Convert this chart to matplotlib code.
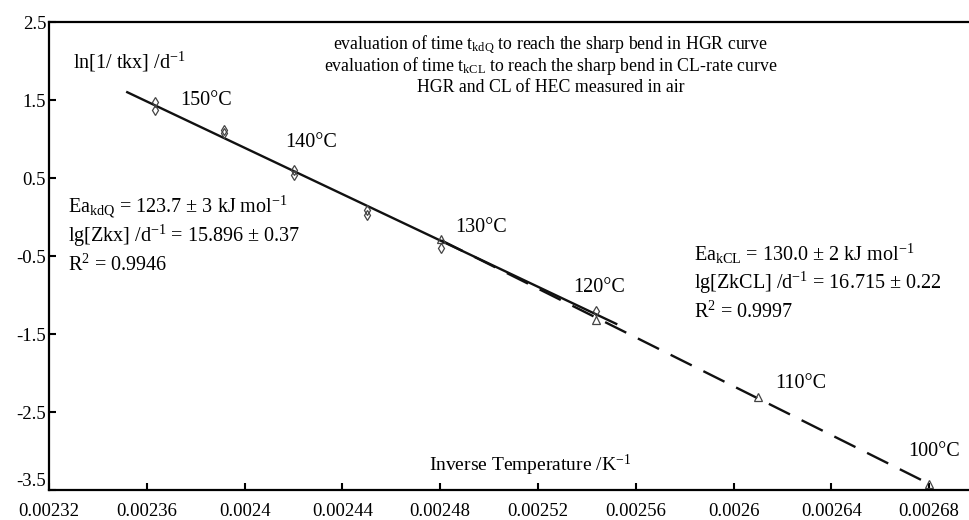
import numpy as np
import matplotlib
matplotlib.use("Agg")
import matplotlib.pyplot as plt

plt.rcParams["font.family"] = ["Liberation Serif", "DejaVu Serif"]
plt.rcParams["mathtext.fontset"] = "custom"
plt.rcParams["mathtext.rm"] = "Liberation Serif"
plt.rcParams["mathtext.it"] = "Liberation Serif:italic"
plt.rcParams["axes.unicode_minus"] = False

# HGR (t_kdQ) points, diamonds
hgr_x = [0.0023632, 0.0023632, 0.0023915, 0.0023915, 0.0024204, 0.0024204,
         0.0024500, 0.0024500, 0.0024805, 0.0025436]
hgr_y = [1.47, 1.37, 1.11, 1.08, 0.60, 0.54, 0.09, 0.03, -0.40, -1.21]

# CL-rate (t_kCL) points, triangles
cl_x = [0.0024805, 0.0025436, 0.0026099, 0.0026799]
cl_y = [-0.28, -1.32, -2.31, -3.42]

# regression line end points
fit_hgr_x = [0.002352, 0.002552]
fit_hgr_y = [1.60, -1.37]
fit_cl_x = [0.0024805, 0.0026799]
fit_cl_y = [-0.30, -3.42]

xticks = [0.00232, 0.00236, 0.0024, 0.00244, 0.00248, 0.00252, 0.00256, 0.0026, 0.00264, 0.00268]
xticklabels = ["0.00232", "0.00236", "0.0024", "0.00244", "0.00248", "0.00252",
               "0.00256", "0.0026", "0.00264", "0.00268"]
yticks = [2.5, 1.5, 0.5, -0.5, -1.5, -2.5, -3.5]
yticklabels = ["2.5", "1.5", "0.5", "-0.5", "-1.5", "-2.5", "-3.5"]

temp_labels = ["150°C", "140°C", "130°C", "120°C", "110°C", "100°C"]
temp_pos = [(0.0023736, 1.49), (0.0024165, 0.95), (0.002486, -0.14),
            (0.0025343, -0.91), (0.0026169, -2.13), (0.0026713, -3.01)]

fig = plt.figure(figsize=(9.7, 5.2), dpi=100)
ax = fig.add_axes([49 / 970, 30 / 520, 1 - 49 / 970, 468 / 520])

ax.plot(fit_hgr_x, fit_hgr_y, color="#111111", lw=1.7)
ax.plot(fit_cl_x, fit_cl_y, color="#111111", lw=1.7, dashes=(10, 5.5))
ax.plot(hgr_x, hgr_y, ls="none", marker="d", ms=5.5, mfc="none", mec="#444444", mew=0.9)
ax.plot(cl_x, cl_y, ls="none", marker="^", ms=5.5, mfc="none", mec="#444444", mew=0.9)

ax.set_xlim(0.00232, 0.0026967)
ax.set_ylim(-3.5, 2.5)
ax.set_xticks(xticks)
ax.set_xticklabels(xticklabels)
ax.set_yticks(yticks)
ax.set_yticklabels(yticklabels)
ax.tick_params(direction="in", length=5, width=1.5, labelsize=13.5, color="black")
ax.tick_params(axis="x", pad=9)
ax.tick_params(axis="y", pad=2)
for side in ["left", "bottom", "top"]:
    ax.spines[side].set_linewidth(1.6)
ax.spines["right"].set_visible(False)
# lift the lowest y label slightly so it clears the first x label
ax.get_yticklabels()[-1].set_va("bottom")

fs = 14.5
for lab, (tx, ty) in zip(temp_labels, temp_pos):
    ax.text(tx, ty, lab, fontsize=14.5, ha="left", va="center")

ax.text(0.0023298, 1.99, r"ln[1/ tkx] /d$^{\mathrm{-1}}$", fontsize=fs, ha="left", va="center")

title_lines = [r"evaluation of time t$_{\mathrm{kdQ}}$ to reach the sharp bend in HGR curve",
               r"evaluation of time t$_{\mathrm{kCL}}$ to reach the sharp bend in CL-rate curve",
               "HGR and CL of HEC measured in air"]
for i, line in enumerate(title_lines):
    ax.text(0.0025253, 2.205 - i * 0.27, line, fontsize=12.8, ha="center", va="center")

left_block = [r"Ea$_{\mathrm{kdQ}}$ = 123.7 ± 3 kJ mol$^{\mathrm{-1}}$",
              r"lg[Zkx] /d$^{\mathrm{-1}}$ = 15.896 ± 0.37",
              r"R$^{\mathrm{2}}$ = 0.9946"]
for i, line in enumerate(left_block):
    ax.text(0.0023278, 0.128 - i * 0.37, line, fontsize=fs, ha="left", va="center")

right_block = [r"Ea$_{\mathrm{kCL}}$ = 130.0 ± 2 kJ mol$^{\mathrm{-1}}$",
               r"lg[ZkCL] /d$^{\mathrm{-1}}$ = 16.715 ± 0.22",
               r"R$^{\mathrm{2}}$ = 0.9997"]
for i, line in enumerate(right_block):
    ax.text(0.0025838, -0.474 - i * 0.372, line, fontsize=fs, ha="left", va="center")

ax.text(0.0025167, -3.18, r"Inverse Temperature /K$^{\mathrm{-1}}$", fontsize=14, ha="center", va="center")

fig.savefig("out.png", dpi=100)
